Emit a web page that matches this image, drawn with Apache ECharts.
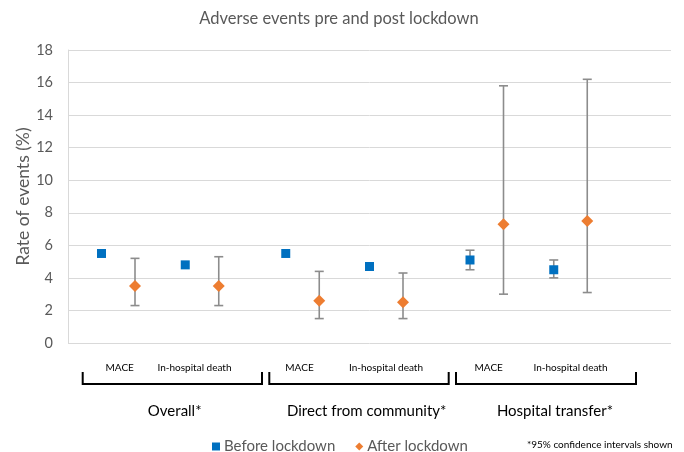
<!DOCTYPE html>
<html>
<head>
<meta charset="utf-8">
<script src="https://cdn.jsdelivr.net/npm/echarts@6/dist/echarts.min.js"></script>
<style>
  html, body { margin: 0; padding: 0; background: #fff; }
  #chart { width: 684px; height: 452px; }
</style>
</head>
<body>
<div id="chart"></div>
<script>
// Patient groups and outcome measures
const groups = ['Overall*', 'Direct from community*', 'Hospital transfer*'];
const measures = ['MACE', 'In-hospital death'];

// Event rates (%) per group, ordered [MACE, In-hospital death]
const beforeRate = [[5.5, 4.8], [5.5, 4.7], [5.1, 4.5]];
const afterRate  = [[3.5, 3.5], [2.6, 2.5], [7.3, 7.5]];

// 95% confidence intervals [low, high]; null where none is shown
const beforeCI = [[null, null], [null, null], [[4.5, 5.7], [4.0, 5.1]]];
const afterCI  = [[[2.3, 5.2], [2.3, 5.3]], [[1.5, 4.4], [1.5, 4.3]], [[3.0, 15.8], [3.1, 16.2]]];

// Y axis ticks
const yTicks = [0, 2, 4, 6, 8, 10, 12, 14, 16, 18];

const legendNames = ['Before lockdown', 'After lockdown'];
const footnote = '*95% confidence intervals shown';
const titleText = 'Adverse events pre and post lockdown';

// Slot layout along the hidden x axis: groups 11 slots apart,
// measures 5 slots apart, after-lockdown 2 slots right of before
function slot(g, m, after) { return 2 + g * 11 + m * 5 + (after ? 2 : 0); }

function points(rates, after) {
  const out = [];
  rates.forEach((row, g) => row.forEach((v, m) => out.push([slot(g, m, after), v])));
  return out;
}
function bars(cis, after) {
  const out = [];
  cis.forEach((row, g) => row.forEach((ci, m) => { if (ci) out.push([slot(g, m, after), ci[0], ci[1]]); }));
  return out;
}

const FONT = 'Lato, "Open Sans", sans-serif';
const BLUE = '#0070C0', ORANGE = '#ED7D31', GREY = '#8c8c8c';

function errorBar(params, api) {
  const lo = api.coord([api.value(0), api.value(1)]);
  const hi = api.coord([api.value(0), api.value(2)]);
  const cap = 4.5;
  const style = { stroke: GREY, lineWidth: 1.6 };
  return {
    type: 'group',
    children: [
      { type: 'line', shape: { x1: lo[0], y1: lo[1], x2: hi[0], y2: hi[1] }, style },
      { type: 'line', shape: { x1: lo[0] - cap, y1: lo[1], x2: lo[0] + cap, y2: lo[1] }, style },
      { type: 'line', shape: { x1: hi[0] - cap, y1: hi[1], x2: hi[0] + cap, y2: hi[1] }, style }
    ]
  };
}

// Bracket and label positions beneath the plot
const bracketSpans = [[82.7, 262], [269.3, 448.7], [456, 636]];
const measureLabelX = [[119.7, 194.5], [299.5, 386], [488.7, 570.5]];
const groupLabelX = [174.7, 366.7, 555];

const graphics = [];
bracketSpans.forEach(([a, b]) => {
  graphics.push({
    type: 'polyline',
    shape: { points: [[a, 372], [a, 384], [b, 384], [b, 372]] },
    style: { stroke: '#000', lineWidth: 2, fill: null }
  });
});
measureLabelX.forEach((xs) => xs.forEach((x, m) => {
  graphics.push({
    type: 'text', x: x, y: 368,
    style: { text: measures[m], font: '10px ' + FONT, fill: '#000', textAlign: 'center', textVerticalAlign: 'middle' }
  });
}));
groupLabelX.forEach((x, g) => {
  graphics.push({
    type: 'text', x: x, y: 411,
    style: { text: groups[g], font: '15px ' + FONT, fill: '#000', textAlign: 'center', textVerticalAlign: 'middle' }
  });
});
graphics.push({
  type: 'text', x: 527, y: 445,
  style: { text: footnote, font: '10px ' + FONT, fill: '#000', textAlign: 'left', textVerticalAlign: 'middle' }
});

const chart = echarts.init(document.getElementById('chart'));
chart.setOption({
  animation: false,
  title: {
    text: titleText, left: 334, top: 5, textAlign: 'center',
    textStyle: { fontFamily: FONT, fontSize: 16.5, fontWeight: 'normal', color: '#595959' }
  },
  legend: {
    left: 207, top: 434, itemWidth: 8, itemHeight: 8, itemGap: 20,
    textStyle: { fontFamily: FONT, fontSize: 15, color: '#595959', padding: [0, 0, 0, -1] },
    data: [{ name: legendNames[0], icon: 'rect' }, { name: legendNames[1], icon: 'diamond' }]
  },
  grid: { left: 68, right: 13, top: 50, bottom: 109, containLabel: false, outerBoundsMode: 'none' },
  xAxis: { type: 'value', min: 0, max: 36, show: false },
  yAxis: {
    type: 'value', min: yTicks[0], max: yTicks[yTicks.length - 1], interval: 2,
    name: 'Rate of events (%)', nameLocation: 'middle', nameGap: 36, nameMoveOverlap: false,
    nameTextStyle: { fontFamily: FONT, fontSize: 17.5, color: '#595959' },
    axisLine: { show: true, lineStyle: { color: '#d9d9d9', width: 1 } },
    axisTick: { show: false },
    axisLabel: { fontFamily: FONT, fontSize: 14.5, color: '#595959', margin: 15 },
    splitLine: { lineStyle: { color: '#d9d9d9', width: 1 } }
  },
  graphic: graphics,
  series: [
    { type: 'custom', renderItem: errorBar, data: bars(beforeCI, false), z: 1, encode: { x: 0, y: [1, 2] }, silent: true },
    { type: 'custom', renderItem: errorBar, data: bars(afterCI, true), z: 1, encode: { x: 0, y: [1, 2] }, silent: true },
    { name: legendNames[0], type: 'scatter', symbol: 'rect', symbolSize: 9, z: 3,
      itemStyle: { color: BLUE, opacity: 1 }, data: points(beforeRate, false) },
    { name: legendNames[1], type: 'scatter', symbol: 'diamond', symbolSize: 12, z: 3,
      itemStyle: { color: ORANGE, opacity: 1 }, data: points(afterRate, true) }
  ]
});
</script>
</body>
</html>
